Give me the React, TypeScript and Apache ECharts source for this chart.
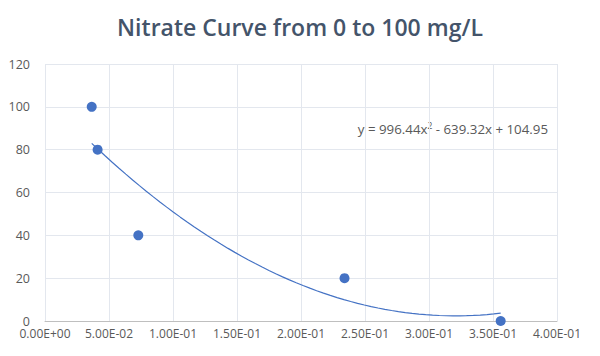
import React, { useEffect, useRef } from "react";
import * as echarts from "echarts";

const xValues = [0.0365, 0.0411, 0.0729, 0.234, 0.356];
const yValues = [100, 80, 40, 20, 0];
const trendCoefficients = [996.44, -639.32, 104.95];
const title = "Nitrate Curve from 0 to 100 mg/L";

function fmtExp(v: number): string {
  const s = v.toExponential(2);
  const [m, e] = s.split("e");
  const sign = e[0] === "-" ? "-" : "+";
  const digits = e.replace(/^[+-]/, "").padStart(2, "0");
  return `${m}E${sign}${digits}`;
}

export default function App() {
  const ref = useRef<HTMLDivElement>(null);
  useEffect(() => {
    const chart = echarts.init(ref.current!, undefined, { renderer: "svg" });
    const xmin = Math.min(...xValues);
    const xmax = Math.max(...xValues);
    const trend: number[][] = [];
    const n = 60;
    for (let i = 0; i <= n; i++) {
      const x = xmin + ((xmax - xmin) * i) / n;
      const [a, b, c] = trendCoefficients;
      trend.push([x, a * x * x + b * x + c]);
    }
    const font = "'Open Sans', sans-serif";
    chart.setOption({
      animation: false,
      backgroundColor: "#ffffff",
      title: {
        text: title,
        left: "center",
        top: 10,
        textStyle: { fontFamily: font, fontSize: 23, fontWeight: 600, color: "#44546A" },
      },
      grid: { left: 45, right: 43, top: 64, bottom: 35, outerBoundsMode: "none", containLabel: false },
      xAxis: {
        type: "value",
        min: 0,
        max: 0.4,
        interval: 0.05,
        axisLine: { show: true, lineStyle: { color: "#BFBFBF" } },
        axisTick: { show: false },
        splitLine: { show: true, lineStyle: { color: "#E3E7EE" } },
        axisLabel: {
          formatter: (v: number) => fmtExp(v),
          color: "#595959",
          fontFamily: font,
          fontSize: 12,
          margin: 6,
        },
      },
      yAxis: {
        type: "value",
        min: 0,
        max: 120,
        interval: 20,
        axisLine: { show: false },
        axisTick: { show: false },
        splitLine: { show: true, lineStyle: { color: "#E3E7EE" } },
        axisLabel: { color: "#595959", fontFamily: font, fontSize: 12.5, margin: 15 },
      },
      series: [
        {
          type: "line",
          data: trend,
          showSymbol: false,
          symbol: "none",
          smooth: false,
          lineStyle: { color: "#4472C4", width: 1.2 },
          z: 2,
        },
        {
          type: "scatter",
          data: xValues.map((x, i) => [x, yValues[i]]),
          symbolSize: 10,
          itemStyle: { color: "#4472C4", opacity: 1 },
          z: 3,
        },
      ],
      graphic: [
        {
          type: "text",
          right: 52,
          top: 121,
          style: {
            text: "y = 996.44x{sup|2} - 639.32x + 104.95",
            fontFamily: font,
            fontSize: 13.3,
            fill: "#595959",
            rich: {
              sup: { fontSize: 8.5, verticalAlign: "top", fill: "#595959", fontFamily: font, padding: [0, 0, 6, 0] },
            },
          },
        },
      ],
    });
    return () => chart.dispose();
  }, []);
  return (
    <div
      ref={ref}
      style={{ position: "fixed", left: 0, top: 0, width: 600, height: 356 }}
    />
  );
}
